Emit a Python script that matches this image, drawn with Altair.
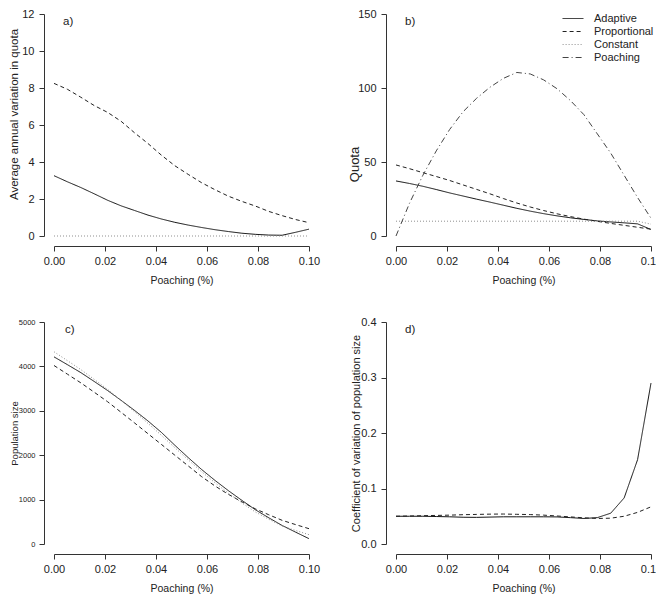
import altair as alt
import pandas as pd

FONT = "Liberation Sans"

# x grid (poaching rate)
poaching = [0.0, 0.00526, 0.01053, 0.01579, 0.02105, 0.02632, 0.03158, 0.03684,
            0.04211, 0.04737, 0.05263, 0.05789, 0.06316, 0.06842, 0.07368,
            0.07895, 0.08421, 0.08947, 0.09474, 0.1]

# a) average annual variation in quota
a_adaptive = [3.26, 2.93, 2.62, 2.28, 1.93, 1.63, 1.38, 1.13, 0.92, 0.74,
              0.59, 0.46, 0.34, 0.24, 0.15, 0.09, 0.05, 0.04, 0.20, 0.37]
a_proportional = [8.25, 7.93, 7.50, 7.05, 6.68, 6.20, 5.58, 5.00, 4.37, 3.80,
                  3.33, 2.88, 2.50, 2.15, 1.87, 1.62, 1.33, 1.10, 0.89, 0.72]
a_constant = [0, 0, 0, 0, 0, 0, 0, 0, 0, 0, 0, 0, 0, 0, 0, 0, 0, 0, 0, 0]

# b) quota
b_adaptive = [37.2, 35.5, 33.6, 31.4, 29.1, 27.0, 24.9, 22.9, 20.8, 18.7,
              16.8, 15.1, 13.6, 12.3, 11.2, 10.2, 9.5, 8.9, 8.2, 4.4]
b_proportional = [48.0, 45.5, 42.8, 40.2, 37.5, 34.5, 31.5, 28.5, 25.3, 22.3,
                  19.6, 17.2, 15.0, 13.1, 11.4, 9.9, 8.5, 7.2, 5.9, 4.6]
b_constant = [10, 10, 10, 10, 10, 10, 10, 10, 10, 10,
              10, 10, 10, 10, 10, 10, 10, 10, 10, 8]
b_poaching = [0, 22, 41, 57.5, 72, 84, 93, 100.5, 106.5, 110.5,
              109.5, 105.5, 99.5, 91.5, 82, 69, 56, 41, 26, 12]

# c) population size
c_adaptive = [4215, 4039, 3860, 3660, 3456, 3235, 3009, 2772, 2514, 2225,
              1946, 1678, 1431, 1200, 983, 772, 591, 417, 267, 120]
c_proportional = [4020, 3825, 3629, 3418, 3203, 2966, 2727, 2485, 2243, 2001,
                  1759, 1517, 1306, 1117, 950, 792, 659, 533, 437, 345]
c_constant = [4330, 4130, 3928, 3707, 3481, 3233, 2981, 2718, 2448, 2169,
              1896, 1628, 1378, 1141, 926, 721, 558, 405, 305, 210]

# d) coefficient of variation of population size
d_adaptive = [0.050, 0.050, 0.050, 0.0495, 0.049, 0.0482, 0.048, 0.0485, 0.049, 0.049,
              0.049, 0.049, 0.0488, 0.0475, 0.046, 0.0475, 0.0555, 0.083, 0.152, 0.290]
d_proportional = [0.050, 0.0505, 0.051, 0.0515, 0.052, 0.0528, 0.0533, 0.0538, 0.054, 0.0535,
                  0.053, 0.052, 0.0505, 0.0488, 0.0472, 0.046, 0.0465, 0.050, 0.057, 0.067]

series_names = ["Adaptive", "Proportional", "Constant", "Poaching"]
series_dash = [[1, 0], [4, 3], [1, 2], [6, 3, 1, 3]]
series_color = ["#111111", "#222222", "#8f8f8f", "#444444"]

x_ticks = [0.0, 0.02, 0.04, 0.06, 0.08, 0.10]

W = 255
H = 222


def build(d):
    rows = []
    for name, vals in d.items():
        for x, v in zip(poaching, vals):
            rows.append({"x": x, "y": v, "s": name})
    return pd.DataFrame(rows)


def panel(d, letter, ydom, yvals, ytitle, yfmt, ylab=11, ytit=11, ylabpad=5,
          legend=False, tdx=9, tdy=2, tity=None):
    df = build(d)
    if legend:
        leg = alt.Legend(orient="none", legendX=170, legendY=-2.5, title=None,
                         symbolType="M-1.6,0H1.6", symbolSize=169, symbolStrokeWidth=1,
                         symbolFillColor="transparent",
                         labelFontSize=11, labelFont=FONT, labelColor="#222",
                         labelOffset=14, rowPadding=1, padding=0)
    else:
        leg = None
    xaxis = alt.Axis(values=x_ticks, format=".2f", offset=10, tickSize=5,
                     labelPadding=4, labelFontSize=11, title="Poaching (%)",
                     titleFontSize=10.5, titlePadding=9, labelFlush=False,
                     labelOverlap=False)
    yargs = dict(values=yvals, format=yfmt, offset=10, tickSize=5,
                 labelPadding=ylabpad, labelFontSize=ylab, title=ytitle,
                 titleFontSize=ytit, titleX=-25, labelFlush=False,
                 labelOverlap=False)
    if tity is not None:
        yargs["titleY"] = tity
    yaxis = alt.Axis(**yargs)
    xs = alt.Scale(domain=[0, 0.1], nice=False, zero=False)
    ys = alt.Scale(domain=ydom, nice=False, zero=False)
    lines = alt.Chart(df).mark_line(strokeWidth=1, clip=False).encode(
        x=alt.X("x:Q", scale=xs, axis=xaxis),
        y=alt.Y("y:Q", scale=ys, axis=yaxis),
        color=alt.Color("s:N", scale=alt.Scale(domain=series_names, range=series_color), legend=leg),
        strokeDash=alt.StrokeDash("s:N", scale=alt.Scale(domain=series_names, range=series_dash), legend=leg),
        order=alt.Order("x:Q"),
    )
    lab = alt.Chart(pd.DataFrame({"label": [letter]})).mark_text(
        align="left", baseline="top", dx=tdx, dy=tdy, fontSize=11.5, font=FONT, color="#222"
    ).encode(
        x=alt.XDatum(0.0, scale=xs, axis=xaxis),
        y=alt.YDatum(ydom[1], scale=ys, axis=yaxis),
        text="label:N",
    )
    return alt.layer(lines, lab).properties(width=W, height=H)


pa = panel({"Adaptive": a_adaptive, "Proportional": a_proportional, "Constant": a_constant},
           "a)", [0, 12], [0, 2, 4, 6, 8, 10, 12], "Average annual variation in quota", "d",
           ytit=11.5, tity=100)
pb = panel({"Adaptive": b_adaptive, "Proportional": b_proportional, "Constant": b_constant,
            "Poaching": b_poaching},
           "b)", [0, 150], [0, 50, 100, 150], "Quota", "d", ytit=13, legend=True, tity=150)
pc = panel({"Adaptive": c_adaptive, "Proportional": c_proportional, "Constant": c_constant},
           "c)", [0, 5000], [0, 1000, 2000, 3000, 4000, 5000], "Population size", "d",
           ylab=7.5, ytit=9.5, ylabpad=4, tdx=11, tdy=2)
pd_ = panel({"Adaptive": d_adaptive, "Proportional": d_proportional},
            "d)", [0, 0.4], [0.0, 0.1, 0.2, 0.3, 0.4], "Coefficient of variation of population size",
            ".1f", ytit=11, tdy=2)

chart = alt.concat(pa, pb, pc, pd_, columns=2, spacing={"row": 86, "column": 87},
                   bounds="flush").resolve_scale(
    x="independent", y="independent", color="independent", strokeDash="independent"
).properties(
    padding={"top": 0, "left": 0, "right": -6, "bottom": 0}
).configure_view(stroke=None).configure_axis(
    domainColor="#333333", tickColor="#333333", labelColor="#222222", titleColor="#222222",
    grid=False, labelFont=FONT, titleFont=FONT, titleFontWeight="normal", domainWidth=1,
    tickWidth=1
)

chart.save("out.html", embed_options={"renderer": "svg", "actions": False})
